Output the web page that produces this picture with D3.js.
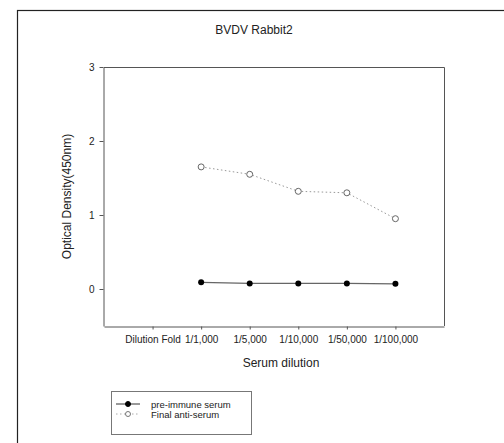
<!DOCTYPE html>
<html>
<head>
<meta charset="utf-8">
<script src="https://cdn.jsdelivr.net/npm/d3@7"></script>
<style>
  html, body { margin: 0; padding: 0; background: #fff; }
  svg { display: block; font-family: "Liberation Sans", Arial, sans-serif; }
</style>
</head>
<body>
<svg id="chart" width="504" height="443"></svg>
<script>
// Dilution series (first slot is the row label, no data there)
const xLabels = ["Dilution Fold", "1/1,000", "1/5,000", "1/10,000", "1/50,000", "1/100,000"];
const dilutions = ["1/1,000", "1/5,000", "1/10,000", "1/50,000", "1/100,000"];
const preImmune = [0.09, 0.075, 0.075, 0.075, 0.07];
const finalAntiSerum = [1.65, 1.55, 1.32, 1.30, 0.95];
const yTicks = [0, 1, 2, 3];

const svg = d3.select("#chart");

// outer panel frame
svg.append("rect")
  .attr("x", 17.5).attr("y", 10.5)
  .attr("width", 600).attr("height", 600)
  .attr("fill", "none").attr("stroke", "#222").attr("stroke-width", 1.2);

const plot = { left: 104, right: 444, top: 67, bottom: 326 };

const x = d3.scaleLinear().domain([0, 7]).range([plot.left, plot.right]);
const y = d3.scaleLinear().domain([-0.5, 3]).range([plot.bottom, plot.top]);
const xPos = label => x(xLabels.indexOf(label) + 1);

const axisColor = "#555";

// frame: top and right sides
svg.append("path")
  .attr("d", `M${plot.left},${plot.top + 0.5}H${plot.right + 0.5}V${plot.bottom}`)
  .attr("fill", "none").attr("stroke", axisColor);

// bottom axis
const xAxis = svg.append("g")
  .attr("transform", `translate(0,${plot.bottom + 0.5})`)
  .call(d3.axisBottom(x)
    .tickValues(xLabels.map((d, i) => i + 1))
    .tickFormat((d) => xLabels[d - 1])
    .tickSizeInner(3).tickSizeOuter(0).tickPadding(6));
xAxis.select(".domain").attr("stroke", axisColor);
xAxis.selectAll(".tick line").attr("stroke", axisColor);
xAxis.selectAll("text").attr("font-size", 10).attr("fill", "#222")
  .attr("font-family", "Liberation Sans, Arial, sans-serif");

// left axis
const yAxis = svg.append("g")
  .attr("transform", `translate(${plot.left - 0.5},0)`)
  .call(d3.axisLeft(y).tickValues(yTicks).tickFormat(d3.format("d"))
    .tickSizeInner(4).tickSizeOuter(0).tickPadding(5));
yAxis.select(".domain").attr("stroke", axisColor);
yAxis.selectAll(".tick line").attr("stroke", axisColor);
yAxis.selectAll("text").attr("font-size", 10).attr("fill", "#222")
  .attr("font-family", "Liberation Sans, Arial, sans-serif");

// title and axis titles
svg.append("text")
  .attr("x", 254).attr("y", 34)
  .attr("text-anchor", "middle").attr("font-size", 12).attr("fill", "#222")
  .text("BVDV Rabbit2");

svg.append("text")
  .attr("transform", `translate(71,${(plot.top + plot.bottom) / 2}) rotate(-90)`)
  .attr("text-anchor", "middle").attr("font-size", 12).attr("fill", "#222")
  .text("Optical Density(450nm)");

svg.append("text")
  .attr("x", 281).attr("y", 367)
  .attr("text-anchor", "middle").attr("font-size", 12).attr("fill", "#222")
  .text("Serum dilution");

// series
const line = d3.line().x(d => xPos(d[0])).y(d => y(d[1]));
const preData = dilutions.map((d, i) => [d, preImmune[i]]);
const finData = dilutions.map((d, i) => [d, finalAntiSerum[i]]);

svg.append("path").datum(finData).attr("d", line)
  .attr("fill", "none").attr("stroke", "#999").attr("stroke-width", 1)
  .attr("stroke-dasharray", "1.5,2.5");

svg.append("path").datum(preData).attr("d", line)
  .attr("fill", "none").attr("stroke", "#666").attr("stroke-width", 1.2);

svg.selectAll(".pre").data(preData).enter().append("circle")
  .attr("class", "pre")
  .attr("cx", d => xPos(d[0])).attr("cy", d => y(d[1])).attr("r", 3)
  .attr("fill", "#000");

svg.selectAll(".fin").data(finData).enter().append("circle")
  .attr("class", "fin")
  .attr("cx", d => xPos(d[0])).attr("cy", d => y(d[1])).attr("r", 3)
  .attr("fill", "#fff").attr("stroke", "#666").attr("stroke-width", 1);

// legend
const lg = svg.append("g");
lg.append("rect")
  .attr("x", 111.5).attr("y", 391.5).attr("width", 140).attr("height", 43)
  .attr("fill", "#fff").attr("stroke", "#777");
const legendItems = [
  { label: "pre-immune serum", dash: null, stroke: "#333", fill: "#000" },
  { label: "Final  anti-serum", dash: "1.5,2.5", stroke: "#aaa", fill: "#fff" }
];
legendItems.forEach((it, i) => {
  const cy = 404 + i * 10;
  lg.append("line").attr("x1", 116).attr("x2", 140).attr("y1", cy).attr("y2", cy)
    .attr("stroke", it.stroke).attr("stroke-width", 1)
    .attr("stroke-dasharray", it.dash);
  lg.append("circle").attr("cx", 128).attr("cy", cy).attr("r", 2.5)
    .attr("fill", it.fill).attr("stroke", i ? "#777" : "#000");
  lg.append("text").attr("x", 151).attr("y", cy + 3.5)
    .attr("font-size", 9.5).attr("fill", "#222").text(it.label);
});
</script>
</body>
</html>
